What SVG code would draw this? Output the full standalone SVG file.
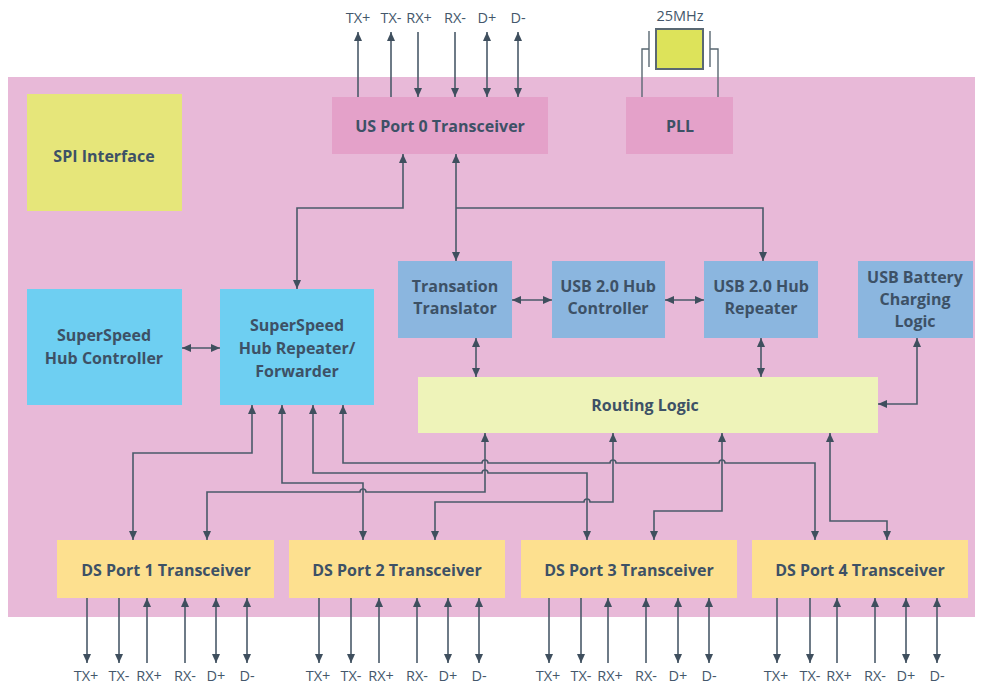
<svg xmlns="http://www.w3.org/2000/svg" width="985" height="688" viewBox="0 0 985 688">
<style>
.t{font-family:"Open Sans","Noto Sans","Liberation Sans",sans-serif;font-weight:bold;font-size:16px;fill:#3d5166;text-anchor:middle}
.s{font-family:"Open Sans","Noto Sans","Liberation Sans",sans-serif;font-size:14.5px;fill:#44576b;text-anchor:middle}
.w{fill:none;stroke:#4a5a69;stroke-width:1.6}
.b{marker-start:url(#ah);marker-end:url(#ah)}
.e{marker-end:url(#ah)}
</style>
<defs>
<marker id="ah" markerUnits="userSpaceOnUse" markerWidth="9" markerHeight="9" viewBox="0 0 9 9" refX="9" refY="4.5" orient="auto-start-reverse">
<path d="M0,0.5 L9,4.5 L0,8.5 z" fill="#3f4f5e"/>
</marker>
</defs>
<rect x="0" y="0" width="985" height="688" fill="#ffffff"/>
<rect x="8" y="77" width="967" height="540" fill="#e8b9d8"/>

<g id="spi"><rect x="27" y="94" width="155" height="117" fill="#e6e67a"/><text class="t" x="104" y="162">SPI Interface</text></g>
<g id="usport0"><rect x="332" y="97" width="216" height="57" fill="#e4a1c9"/><text class="t" x="440" y="132">US Port 0 Transceiver</text></g>
<g id="pll"><rect x="626" y="97" width="107" height="57" fill="#e4a1c9"/><text class="t" x="680" y="132">PLL</text></g>
<g id="crystal">
<rect x="656" y="29" width="47" height="40" fill="#dde35a" stroke="#5a6872" stroke-width="2"/>
<path d="M649,31 V67 M710,31 V67 M649,49 H642 V97 M710,49 H718 V97" fill="none" stroke="#5a6872" stroke-width="1.4"/>
<text class="s" x="680" y="21">25MHz</text>
</g>
<g id="tt"><rect x="398" y="261" width="114" height="77" fill="#8bb6df"/><text class="t" x="455" y="292">Transation</text><text class="t" x="455" y="314">Translator</text></g>
<g id="hubctrl"><rect x="552" y="261" width="113" height="77" fill="#8bb6df"/><text class="t" x="608" y="292">USB 2.0 Hub</text><text class="t" x="608" y="314">Controller</text></g>
<g id="hubrep"><rect x="704" y="261" width="114" height="77" fill="#8bb6df"/><text class="t" x="761" y="292">USB 2.0 Hub</text><text class="t" x="761" y="314">Repeater</text></g>
<g id="battery"><rect x="858" y="261" width="115" height="77" fill="#8bb6df"/><text class="t" x="915" y="283">USB Battery</text><text class="t" x="915" y="305">Charging</text><text class="t" x="915" y="327">Logic</text></g>
<g id="sshubctrl"><rect x="27" y="289" width="155" height="116" fill="#6ecff2"/><text class="t" x="104" y="341">SuperSpeed</text><text class="t" x="104" y="364">Hub Controller</text></g>
<g id="sshubrep"><rect x="220" y="289" width="154" height="116" fill="#6ecff2"/><text class="t" x="297" y="331">SuperSpeed</text><text class="t" x="297" y="354">Hub Repeater/</text><text class="t" x="297" y="377">Forwarder</text></g>
<g id="routing"><rect x="418" y="377" width="460" height="56" fill="#eef3b9"/><text class="t" x="645" y="411">Routing Logic</text></g>
<g id="ds1"><rect x="57" y="540" width="217" height="58" fill="#fde08f"/><text class="t" x="166" y="576">DS Port 1 Transceiver</text></g>
<g id="ds2"><rect x="289" y="540" width="216" height="58" fill="#fde08f"/><text class="t" x="397" y="576">DS Port 2 Transceiver</text></g>
<g id="ds3"><rect x="521" y="540" width="216" height="58" fill="#fde08f"/><text class="t" x="629" y="576">DS Port 3 Transceiver</text></g>
<g id="ds4"><rect x="752" y="540" width="216" height="58" fill="#fde08f"/><text class="t" x="860" y="576">DS Port 4 Transceiver</text></g>

<g id="connectors">
<path class="w e" d="M358,97 V32"/>
<path class="w e" d="M391,97 V32"/>
<path class="w e" d="M418,32 V97"/>
<path class="w e" d="M455,32 V97"/>
<path class="w b" d="M487,32 V97"/>
<path class="w b" d="M518,32 V97"/>
<text class="s" x="358" y="23">TX+</text><text class="s" x="391" y="23">TX-</text><text class="s" x="419" y="23">RX+</text><text class="s" x="455" y="23">RX-</text><text class="s" x="487" y="23">D+</text><text class="s" x="518" y="23">D-</text>

<path class="w b" d="M403,154 V208 H297 V289"/>
<path class="w b" d="M456,154 V261"/>
<path class="w e" d="M456,208 H763 V261"/>
<path class="w b" d="M512,300 H552"/>
<path class="w b" d="M665,300 H704"/>
<path class="w b" d="M476,338 V377"/>
<path class="w b" d="M761,338 V377"/>
<path class="w b" d="M917,338 V404 H878"/>
<path class="w b" d="M182,348 H220"/>

<path class="w b" d="M252,405 V453 H133 V540"/>
<path class="w b" d="M282,405 V483 H363 V540"/>
<path class="w b" d="M313,405 V473 H482 a3,3 0 0 1 6,0 H587 V540"/>
<path class="w b" d="M343,405 V463 H482 a3,3 0 0 1 6,0 H610 a3,3 0 0 1 6,0 H719 a3,3 0 0 1 6,0 H815 V540"/>
<path class="w b" d="M485,433 V492 H366 a3,3 0 0 0 -6,0 H207 V540"/>
<path class="w b" d="M613,433 V502 H590 a3,3 0 0 0 -6,0 H435 V540"/>
<path class="w b" d="M722,433 V511 H654 V540"/>
<path class="w b" d="M830,433 V521 H887 V540"/>
</g>

<g id="dsSignals">
<g id="ds1sig">
<path class="w e" d="M87,598 V663"/><path class="w e" d="M119,598 V663"/><path class="w e" d="M147,663 V598"/><path class="w e" d="M185,663 V598"/><path class="w b" d="M216,598 V663"/><path class="w b" d="M247,598 V663"/>
<text class="s" x="86" y="681">TX+</text><text class="s" x="119" y="681">TX-</text><text class="s" x="149" y="681">RX+</text><text class="s" x="185" y="681">RX-</text><text class="s" x="216" y="681">D+</text><text class="s" x="247" y="681">D-</text>
</g>
<g id="ds2sig">
<path class="w e" d="M319,598 V663"/><path class="w e" d="M351,598 V663"/><path class="w e" d="M379,663 V598"/><path class="w e" d="M417,663 V598"/><path class="w b" d="M448,598 V663"/><path class="w b" d="M479,598 V663"/>
<text class="s" x="318" y="681">TX+</text><text class="s" x="351" y="681">TX-</text><text class="s" x="381" y="681">RX+</text><text class="s" x="417" y="681">RX-</text><text class="s" x="448" y="681">D+</text><text class="s" x="479" y="681">D-</text>
</g>
<g id="ds3sig">
<path class="w e" d="M549,598 V663"/><path class="w e" d="M581,598 V663"/><path class="w e" d="M608,663 V598"/><path class="w e" d="M646,663 V598"/><path class="w b" d="M678,598 V663"/><path class="w b" d="M709,598 V663"/>
<text class="s" x="548" y="681">TX+</text><text class="s" x="581" y="681">TX-</text><text class="s" x="610" y="681">RX+</text><text class="s" x="646" y="681">RX-</text><text class="s" x="678" y="681">D+</text><text class="s" x="709" y="681">D-</text>
</g>
<g id="ds4sig">
<path class="w e" d="M777,598 V663"/><path class="w e" d="M810,598 V663"/><path class="w e" d="M837,663 V598"/><path class="w e" d="M875,663 V598"/><path class="w b" d="M906,598 V663"/><path class="w b" d="M937,598 V663"/>
<text class="s" x="776" y="681">TX+</text><text class="s" x="810" y="681">TX-</text><text class="s" x="839" y="681">RX+</text><text class="s" x="875" y="681">RX-</text><text class="s" x="906" y="681">D+</text><text class="s" x="937" y="681">D-</text>
</g>
</g>
</svg>
